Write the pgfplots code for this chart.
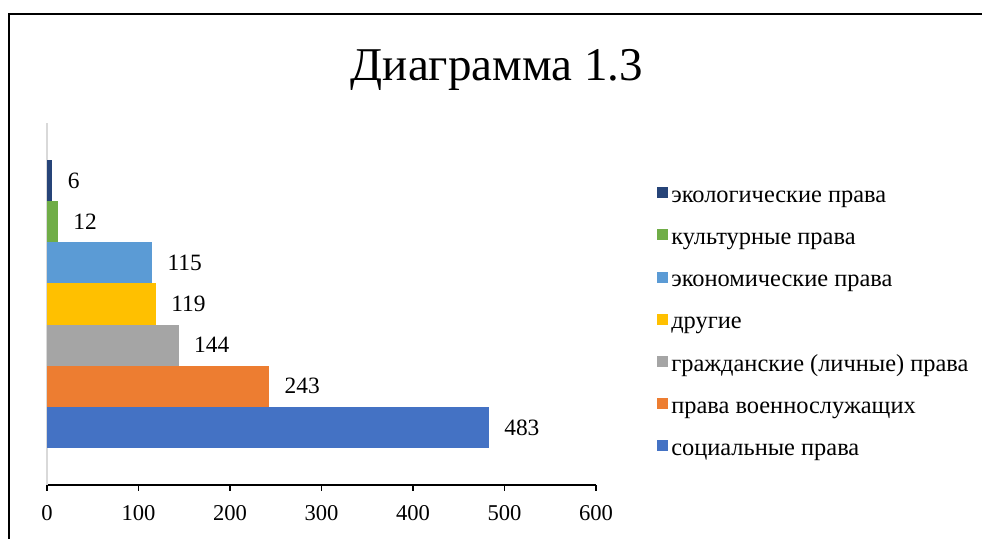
\documentclass[border=0pt]{standalone}
\usepackage{pgfplots}
\pgfplotsset{compat=1.18}
\usepackage{fontspec}
\setmainfont{Liberation Serif}
\definecolor{cSoc}{HTML}{4472C4}
\definecolor{cMil}{HTML}{ED7D31}
\definecolor{cCiv}{HTML}{A5A5A5}
\definecolor{cOth}{HTML}{FFC000}
\definecolor{cEco}{HTML}{5B9BD5}
\definecolor{cCul}{HTML}{70AD47}
\definecolor{cEcl}{HTML}{264478}
\begin{document}
\begin{tikzpicture}
\useasboundingbox (0,0) rectangle (491pt,269pt);
\draw[line width=1pt] (4.5pt,-2pt) -- (4.5pt,262pt) -- (493pt,262pt);
\node[font=\fontsize{23.5}{28}\selectfont, anchor=base, inner sep=0pt] at (248.5pt,229pt) {Диаграмма 1.3};
\begin{axis}[
  at={(23.5pt,26.5pt)}, anchor=south west,
  scale only axis, width=274.5pt, height=181pt,
  xbar, bar width=1,
  xmin=0, xmax=600, ymin=-0.4, ymax=8.4,
  axis x line*=bottom, axis y line*=left,
  x axis line style={black, line width=0.6pt, -},
  y axis line style={black!15, line width=1pt, -},
  xtick={0,100,...,600}, ytick=\empty,
  tick align=outside, major tick length=2.75pt,
  x tick style={black, line width=0.6pt},
  tick label style={font=\fontsize{11.3}{13}\selectfont},
  xticklabel style={yshift=-4pt},
  /pgf/number format/assume math mode=true,
  nodes near coords,
  nodes near coords style={anchor=west, inner sep=0pt, xshift=7.5pt, font=\fontsize{11.7}{14}\selectfont, text=black},
  legend cell align=left,
  legend image code/.code={\fill[#1] (0pt,-0.4pt) rectangle (5.5pt,5.1pt);},
  legend style={at={(axis description cs:1.111,0.824)}, anchor=north west, draw=none, fill=none,
    inner sep=0pt, row sep=11.0pt, column sep=0pt,
    font=\fontsize{12.2}{14}\selectfont,
    nodes={inner sep=0pt, text height=7.5pt, text depth=2.5pt},
    /tikz/every even column/.append style={column sep=0pt}},
]
\addplot[fill=cEcl, draw=none, bar shift=0pt] coordinates {(6,7)};
\addlegendentry{\hspace{1.5pt}экологические права}
\addplot[fill=cCul, draw=none, bar shift=0pt] coordinates {(12,6)};
\addlegendentry{\hspace{1.5pt}культурные права}
\addplot[fill=cEco, draw=none, bar shift=0pt] coordinates {(115,5)};
\addlegendentry{\hspace{1.5pt}экономические права}
\addplot[fill=cOth, draw=none, bar shift=0pt] coordinates {(119,4)};
\addlegendentry{\hspace{1.5pt}другие}
\addplot[fill=cCiv, draw=none, bar shift=0pt] coordinates {(144,3)};
\addlegendentry{\hspace{1.5pt}гражданские (личные) права}
\addplot[fill=cMil, draw=none, bar shift=0pt] coordinates {(243,2)};
\addlegendentry{\hspace{1.5pt}права военнослужащих}
\addplot[fill=cSoc, draw=none, bar shift=0pt] coordinates {(483,1)};
\addlegendentry{\hspace{1.5pt}социальные права}
\end{axis}
\end{tikzpicture}
\end{document}
